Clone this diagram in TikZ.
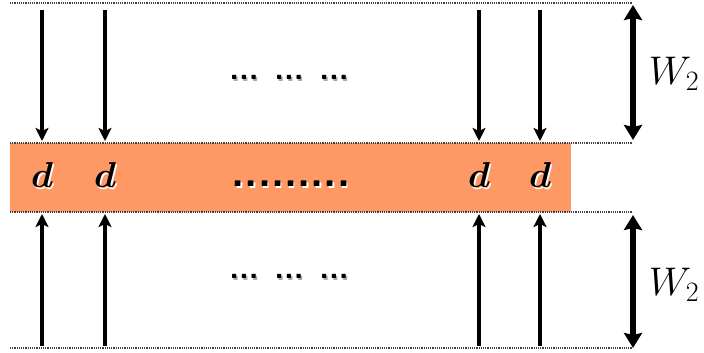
\RequirePackage{fix-cm}
\documentclass[tikz,border=0pt]{standalone}
\usepackage{amsmath,bm}
\usetikzlibrary{arrows.meta}
\definecolor{bandfill}{RGB}{254,152,100}
\definecolor{shadowgray}{RGB}{170,170,170}
\tikzset{
  guide/.style={line width=1.1pt, dash pattern=on 1.1pt off 1.1pt, black!75},
  flow/.style={line width=4.5pt, -{Stealth[length=13pt,width=13pt,inset=3pt]}},
  span/.style={line width=6pt, {Stealth[length=15pt,width=18pt,inset=2pt]}-{Stealth[length=15pt,width=18pt,inset=2pt]}},
  dlabel/.style={inner sep=0pt, font=\fontsize{36}{36}\selectfont},
  wlabel/.style={inner sep=0pt, font=\fontsize{40}{40}\selectfont},
  dots/.style={inner sep=0pt, anchor=base, font=\fontsize{32}{32}\selectfont\sffamily\bfseries},
  middots/.style={inner sep=0pt, anchor=base, font=\fontsize{43}{43}\selectfont\sffamily\bfseries},
}
\begin{document}
\begin{tikzpicture}[x=1pt,y=1pt]
\useasboundingbox (0,0) rectangle (704,353);

% central band
\fill[bandfill] (10,141) rectangle (571,210);

% dotted guide lines
\coordinate (gt0) at (10,350);  \coordinate (gt1) at (632,350);
\coordinate (gm0) at (10,210);  \coordinate (gm1) at (632,210);
\coordinate (gn0) at (10,141);  \coordinate (gn1) at (632,141);
\coordinate (gb0) at (10,5);    \coordinate (gb1) at (632,5);
\draw[guide] (gt0) -- (gt1);
\draw[guide] (gm0) -- (gm1);
\draw[guide] (gn0) -- (gn1);
\draw[guide] (gb0) -- (gb1);

% flow arrows into the band
\foreach \i/\x in {1/42,2/105,3/479,4/540}{
  \coordinate (ds\i) at (\x,343);
  \coordinate (de\i) at (\x,212);
  \coordinate (us\i) at (\x,7);
  \coordinate (ue\i) at (\x,139);
  \draw[flow] (ds\i) -- (de\i);
  \draw[flow] (us\i) -- (ue\i);
  \node[dlabel, text=white] (dsh\i) at (\x+1.6,176.4) {$\bm{d}$};
  \node[dlabel] (d\i) at (\x,178) {$\bm{d}$};
}

% width markers
\coordinate (wt0) at (633,348); \coordinate (wt1) at (633,213);
\coordinate (wb0) at (633,138); \coordinate (wb1) at (633,5);
\draw[span] (wt0) -- (wt1);
\draw[span] (wb0) -- (wb1);
\node[wlabel] (w1) at (674,279) {$W_2$};
\node[wlabel] (w2) at (674,68) {$W_2$};

% ellipses
\node[dots, text=shadowgray] (tdsh) at (290.5,271.5) {... ... ...};
\node[dots] (td) at (289,273) {... ... ...};
\node[dots, text=shadowgray] (bdsh) at (290.5,72.5) {... ... ...};
\node[dots] (bd) at (289,74) {... ... ...};
\node[middots, text=white] (mdsh) at (292.5,164.5) {.........};
\node[middots] (md) at (291,166) {.........};
\end{tikzpicture}
\end{document}
